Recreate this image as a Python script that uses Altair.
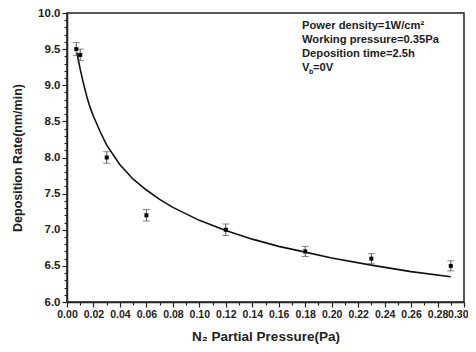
import altair as alt
import pandas as pd

# measured points
x_pts = [0.007, 0.010, 0.030, 0.060, 0.120, 0.180, 0.230, 0.290]
y_pts = [9.50, 9.42, 8.00, 7.20, 7.00, 6.70, 6.60, 6.50]
err = [0.09, 0.08, 0.08, 0.08, 0.08, 0.07, 0.07, 0.07]

# fitted curve
x_fit = [0.0075, 0.010, 0.0125, 0.015, 0.0175, 0.020, 0.025, 0.030, 0.040, 0.050,
         0.060, 0.070, 0.080, 0.100, 0.120, 0.140, 0.160, 0.180, 0.200, 0.230,
         0.260, 0.290]
y_fit = [9.45, 9.22, 9.02, 8.84, 8.69, 8.57, 8.36, 8.17, 7.90, 7.70,
         7.55, 7.42, 7.31, 7.13, 6.99, 6.87, 6.77, 6.69, 6.61, 6.51,
         6.42, 6.35]

x_major = [0.00, 0.02, 0.04, 0.06, 0.08, 0.10, 0.12, 0.14, 0.16, 0.18, 0.20,
           0.22, 0.24, 0.26, 0.28, 0.30]
x_minor = [0.01, 0.03, 0.05, 0.07, 0.09, 0.11, 0.13, 0.15, 0.17, 0.19,
           0.21, 0.23, 0.25, 0.27, 0.29]
y_major = [6.0, 6.5, 7.0, 7.5, 8.0, 8.5, 9.0, 9.5, 10.0]
y_minor = [6.1, 6.2, 6.3, 6.4, 6.6, 6.7, 6.8, 6.9, 7.1, 7.2, 7.3, 7.4,
           7.6, 7.7, 7.8, 7.9, 8.1, 8.2, 8.3, 8.4, 8.6, 8.7, 8.8, 8.9,
           9.1, 9.2, 9.3, 9.4, 9.6, 9.7, 9.8, 9.9]

notes = ["Power density=1W/cm\u00b2", "Working pressure=0.35Pa", "Deposition time=2.5h"]

FONT = "Liberation Sans"
INK = "#222"

pts = pd.DataFrame({"x": x_pts, "y": y_pts, "e": err})
fit = pd.DataFrame({"x": x_fit, "y": y_fit})

xs = alt.Scale(domain=[0, 0.30], nice=False, zero=False)
ys = alt.Scale(domain=[6.0, 10.0], nice=False, zero=False)

common = dict(grid=False, labelFlush=False, labelOverlap=False, labelPadding=2,
              labelFont=FONT, labelFontWeight="bold", labelColor=INK,
              titleFont=FONT, titleFontWeight="bold", titleColor=INK,
              domainColor=INK, tickColor=INK, domainWidth=1.5, tickWidth=1.2)

last_x = "datum.value > 0.295"
xaxis = alt.Axis(values=x_major, format=".2f", title="N\u2082 Partial Pressure(Pa)",
                 orient="bottom", tickSize=5, titlePadding=10, titleFontSize=13.5,
                 labelFontSize=10.5,
                 labelAlign={"condition": {"test": last_x, "value": "right"}, "value": "center"},
                 labelOffset={"condition": {"test": last_x, "value": 4}, "value": 0},
                 **common)
yaxis = alt.Axis(values=y_major, format=".1f", title="Deposition Rate(nm/min)",
                 orient="left", tickSize=5, titlePadding=13, titleFontSize=12.5,
                 labelFontSize=11.5, **common)
xaxis_minor = alt.Axis(values=x_minor, labels=False, title=None, orient="bottom",
                       tickSize=3, domain=False, grid=False, tickColor=INK, tickWidth=1.2)
yaxis_minor = alt.Axis(values=y_minor, labels=False, title=None, orient="left",
                       tickSize=3, domain=False, grid=False, tickColor=INK, tickWidth=1.2)

base = alt.Chart(pts)

line = alt.Chart(fit).mark_line(color="#111", strokeWidth=1.6).encode(
    x=alt.X("x:Q", scale=xs, axis=xaxis),
    y=alt.Y("y:Q", scale=ys, axis=yaxis),
)

minor = alt.Chart(fit).mark_line(opacity=0).encode(
    x=alt.X("x:Q", scale=xs, axis=xaxis_minor),
    y=alt.Y("y:Q", scale=ys, axis=yaxis_minor),
)

bars = base.transform_calculate(lo="datum.y - datum.e", hi="datum.y + datum.e").mark_rule(
    color="#555", strokeWidth=1
).encode(x=alt.X("x:Q", axis=None), y=alt.Y("lo:Q", axis=None), y2="hi:Q")

caps_lo = base.transform_calculate(lo="datum.y - datum.e").mark_tick(
    orient="horizontal", size=7, thickness=1, color="#555"
).encode(x=alt.X("x:Q", axis=None), y=alt.Y("lo:Q", axis=None))
caps_hi = base.transform_calculate(hi="datum.y + datum.e").mark_tick(
    orient="horizontal", size=7, thickness=1, color="#555"
).encode(x=alt.X("x:Q", axis=None), y=alt.Y("hi:Q", axis=None))

points = base.mark_square(size=16, color="#000", opacity=1).encode(
    x=alt.X("x:Q", axis=None), y=alt.Y("y:Q", axis=None))

txt_props = dict(font=FONT, fontWeight="bold", fontSize=11.2, color=INK,
                 align="left", baseline="middle")
note_layers = []
for i, t in enumerate(notes):
    note_layers.append(
        alt.Chart(pd.DataFrame({"t": [t]})).mark_text(**txt_props).encode(
            text="t:N", x=alt.value(235), y=alt.value(13 + 14 * i)
        )
    )
note_layers.append(alt.Chart(pd.DataFrame({"t": ["V"]})).mark_text(**txt_props).encode(
    text="t:N", x=alt.value(235), y=alt.value(55)))
note_layers.append(alt.Chart(pd.DataFrame({"t": ["b"]})).mark_text(
    font=FONT, fontWeight="bold", fontSize=7, color=INK, align="left", baseline="middle"
).encode(text="t:N", x=alt.value(242), y=alt.value(59)))
note_layers.append(alt.Chart(pd.DataFrame({"t": ["=0V"]})).mark_text(**txt_props).encode(
    text="t:N", x=alt.value(246), y=alt.value(55)))

chart = alt.layer(line, minor, bars, caps_lo, caps_hi, points, *note_layers).resolve_axis(
    x="independent", y="independent"
).properties(
    width=397, height=289,
    padding={"left": 59, "top": 5, "right": 4, "bottom": 42},
    autosize=alt.AutoSizeParams(type="none"),
    background="white",
).configure_view(stroke=INK, strokeWidth=1.5)

chart.save("out.html", embed_options={"renderer": "svg", "actions": False})
